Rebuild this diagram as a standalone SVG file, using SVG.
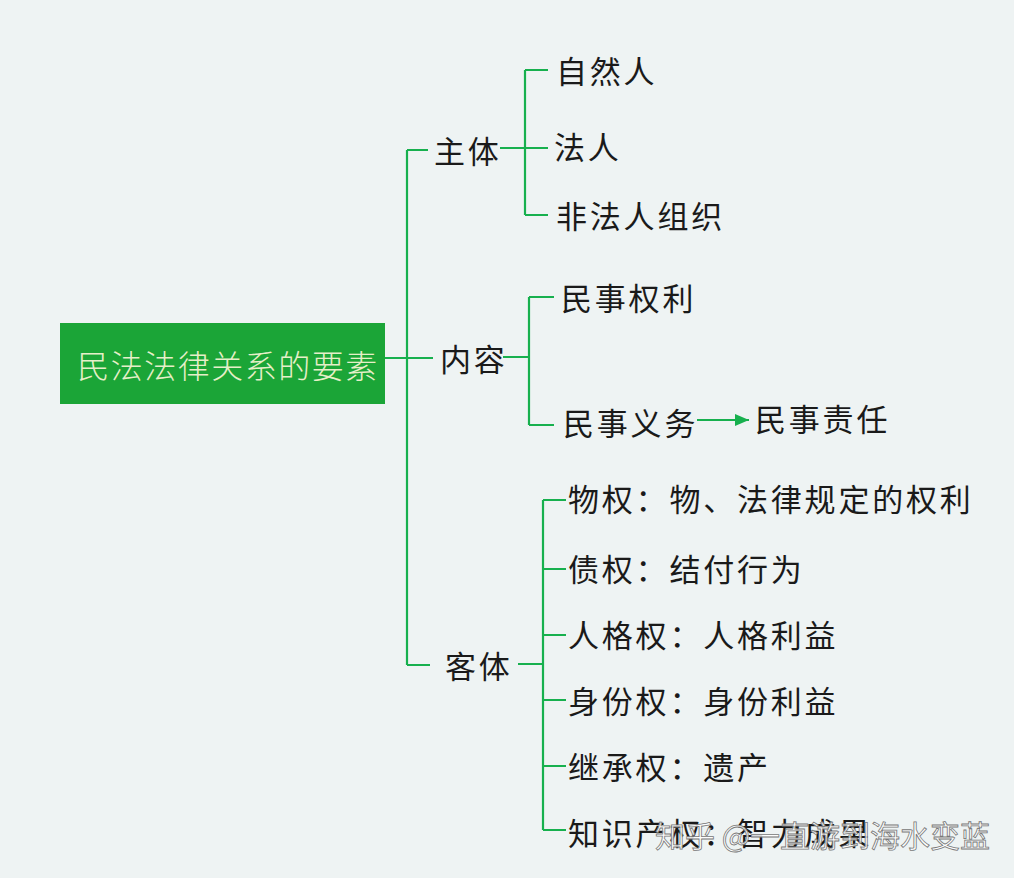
<svg xmlns="http://www.w3.org/2000/svg" width="1014" height="878" viewBox="0 0 1014 878">
<defs>
<style>
.t{font-family:"Noto Sans CJK SC","Noto Sans CJK JP",sans-serif;font-size:31px;fill:#1a1a1a;dominant-baseline:central;letter-spacing:2.8px}
.ln{stroke:#17b04e;stroke-width:2.2;fill:none}
.wm{font-family:"Noto Sans CJK SC",sans-serif;font-size:30px;fill:#ffffff;fill-opacity:0.85;stroke:#777;stroke-width:0.8;dominant-baseline:central}
</style>
<marker id="ah" markerWidth="14" markerHeight="12" refX="14" refY="6" orient="auto" markerUnits="userSpaceOnUse" viewBox="0 0 14 12">
<path d="M0,0 L14,6 L0,12 z" fill="#17b04e"/>
</marker>
</defs>
<rect width="1014" height="878" fill="#eef3f3"/>
<g id="connectors">
<path class="ln" d="M385,358 H433 M407,150 V665 M407,150 H428 M407,665 H430"/>
<path class="ln" d="M500,148 H548 M525,70 V215 M525,70 H548 M525,215 H548"/>
<path class="ln" d="M503,357 H529 M529,297 V425 M529,297 H554 M529,425 H554"/>
<path class="ln" d="M697,420 H749" marker-end="url(#ah)"/>
<path class="ln" d="M518,664 H543 M543,500 V830 M543,500 H566 M543,569 H566 M543,635 H566 M543,700 H566 M543,766 H566 M543,830 H566"/>
</g>
<g id="root">
<rect x="60" y="323" width="325" height="81" fill="#1ba537"/>
<text x="228" y="364" text-anchor="middle" style="font-family:'Noto Sans CJK SC',sans-serif;font-size:32px;fill:#e6efc8;dominant-baseline:central;font-weight:300;letter-spacing:1.5px">民法法律关系的要素</text>
</g>
<g id="n-zhuti"><text class="t" x="434" y="149">主体</text></g>
<g id="n-ziranren"><text class="t" x="556" y="69">自然人</text></g>
<g id="n-faren"><text class="t" x="554" y="145">法人</text></g>
<g id="n-feifaren"><text class="t" x="556" y="214">非法人组织</text></g>
<g id="n-neirong"><text class="t" x="440" y="357">内容</text></g>
<g id="n-quanli"><text class="t" x="561" y="296">民事权利</text></g>
<g id="n-yiwu"><text class="t" x="563" y="421">民事义务</text></g>
<g id="n-zeren"><text class="t" x="755" y="417">民事责任</text></g>
<g id="n-keti"><text class="t" x="445" y="664">客体</text></g>
<g id="n-wuquan"><text class="t" x="568" y="497">物权：物、法律规定的权利</text></g>
<g id="n-zhaiquan"><text class="t" x="568" y="567">债权：结付行为</text></g>
<g id="n-rengequan"><text class="t" x="568" y="633">人格权：人格利益</text></g>
<g id="n-shenfen"><text class="t" x="568" y="699">身份权：身份利益</text></g>
<g id="n-jicheng"><text class="t" x="568" y="765">继承权：遗产</text></g>
<g id="n-zhishi"><text class="t" x="568" y="831">知识产权：智力成果</text></g>
<text class="wm" x="655" y="834">知乎 @一直游到海水变蓝</text>
</svg>
